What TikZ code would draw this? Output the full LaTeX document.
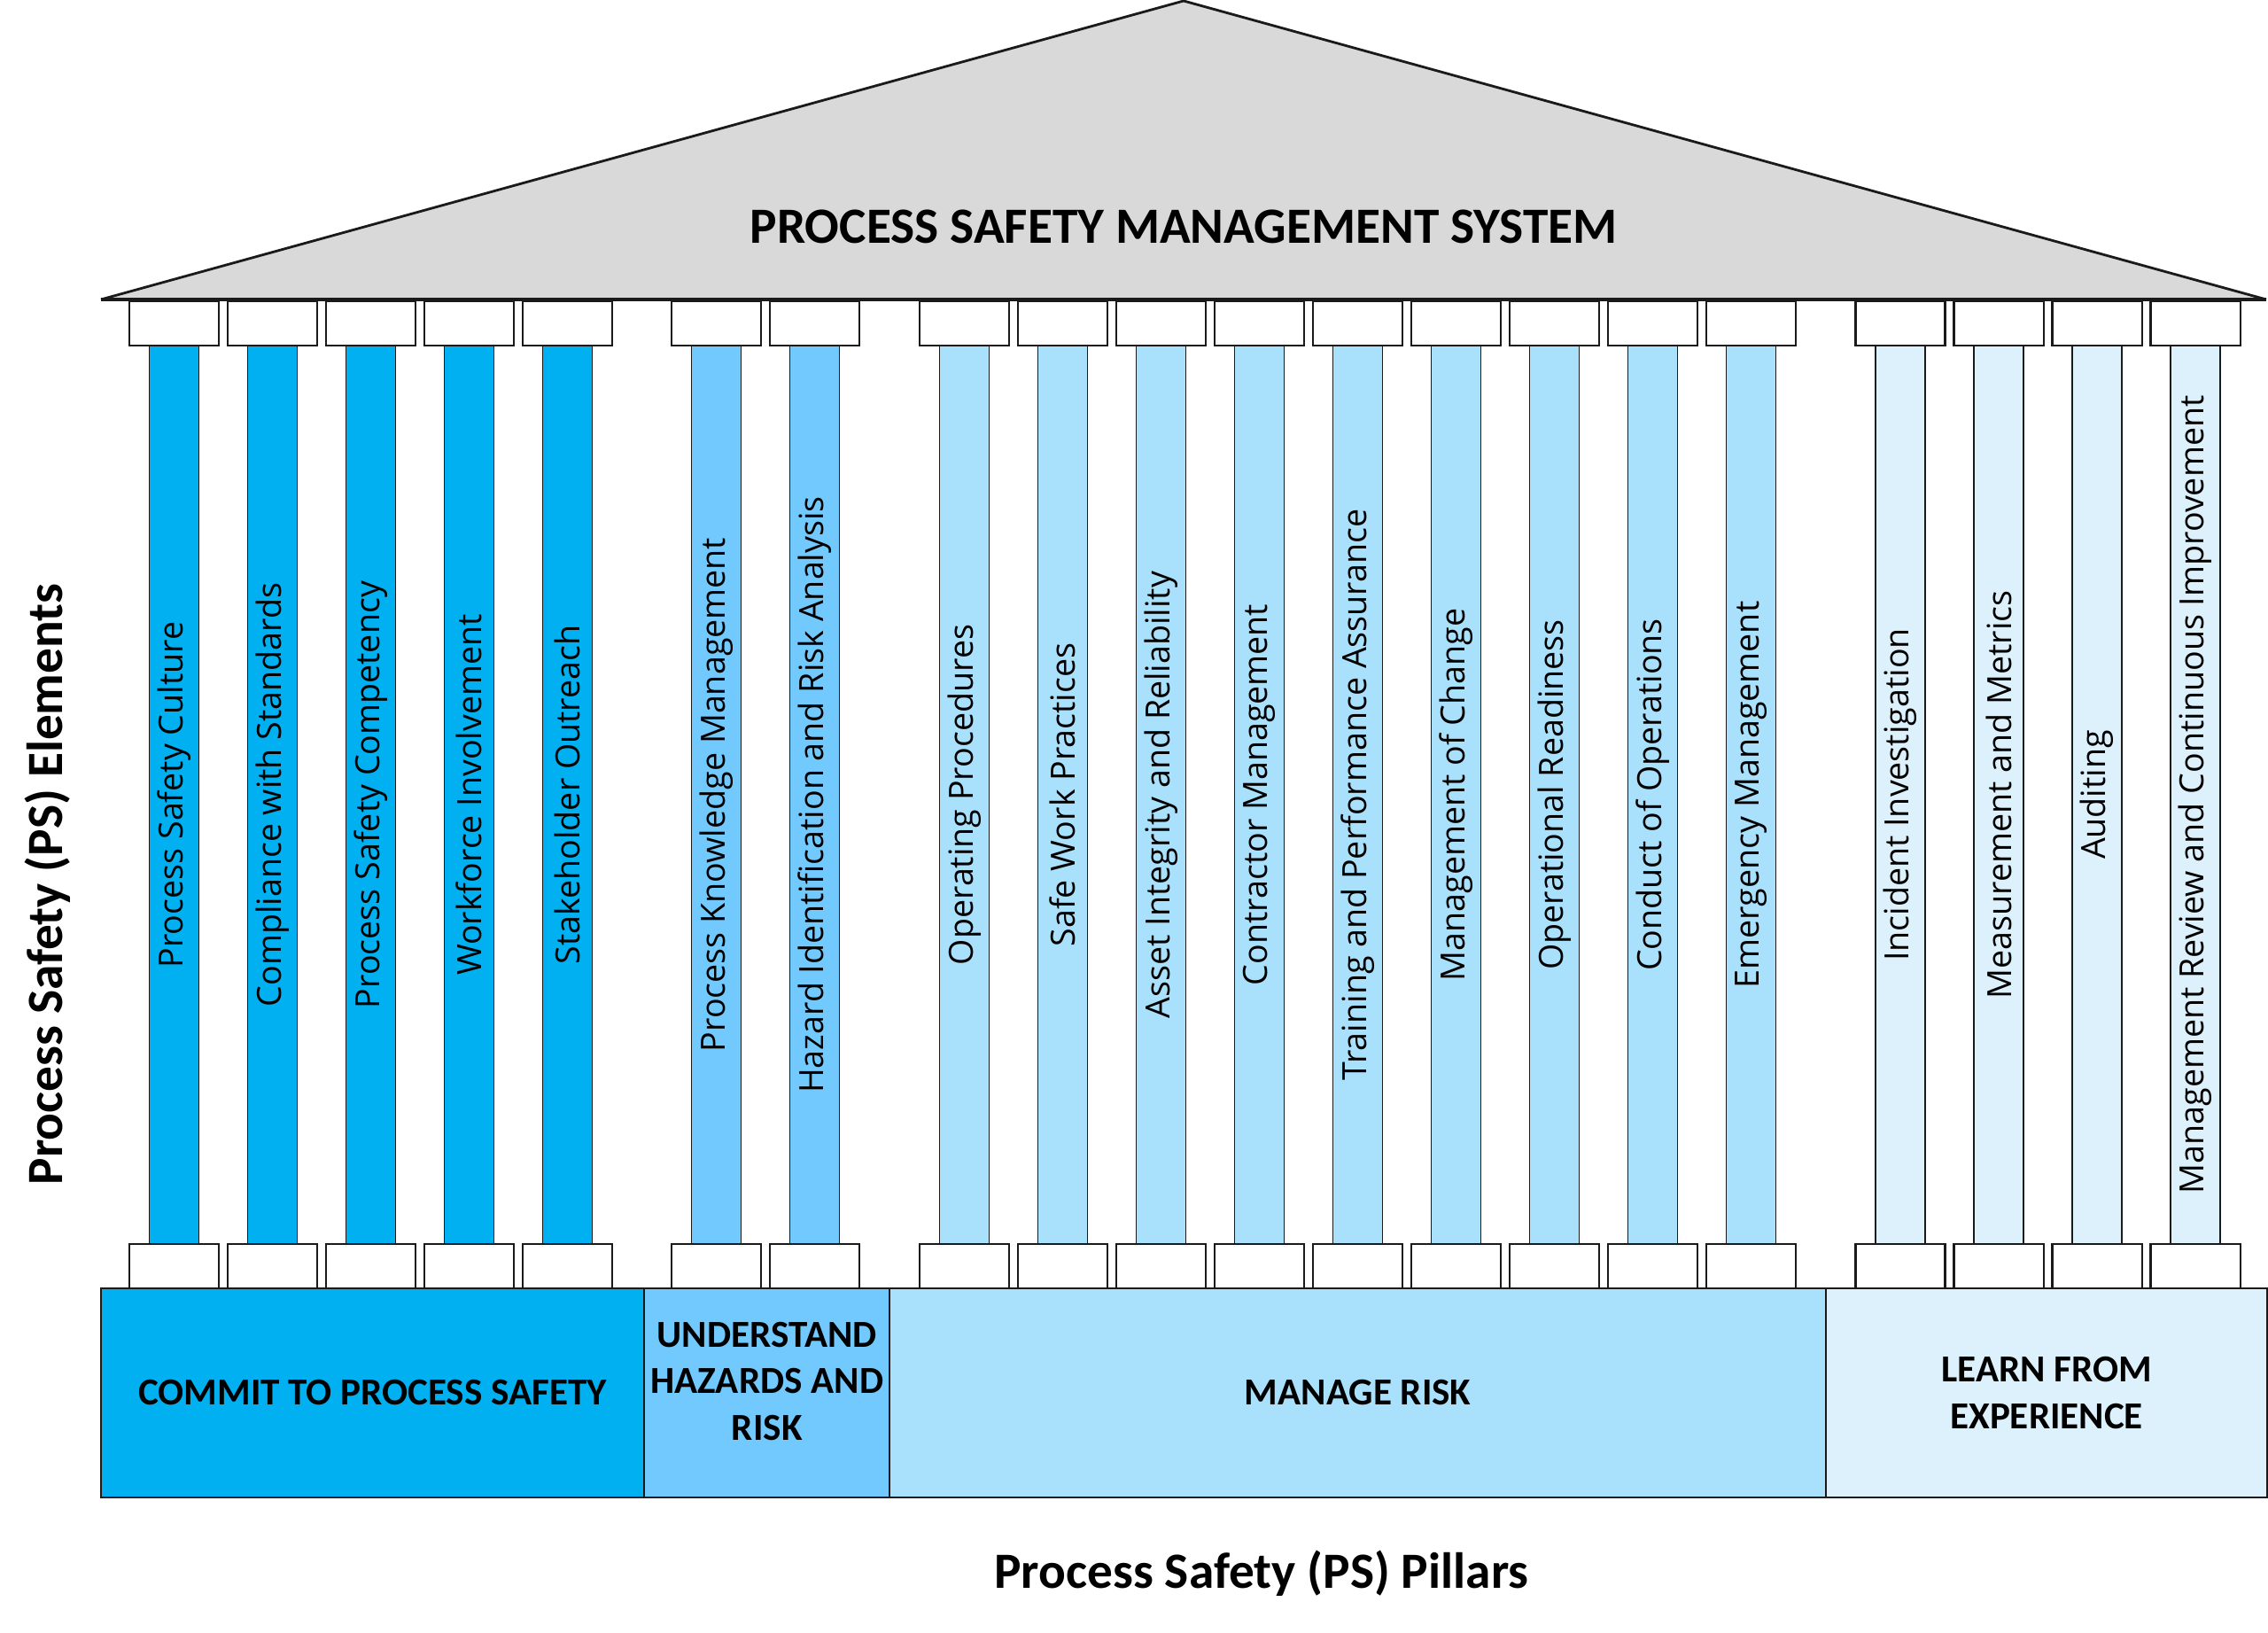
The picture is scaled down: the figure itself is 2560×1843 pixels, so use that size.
\documentclass[tikz,border=0pt]{standalone}
\usepackage{fontspec}
\setmainfont{Carlito}
\newfontfamily\elemfont{Open Sans}
\usetikzlibrary{positioning}
\definecolor{commit}{HTML}{00B0F0}
\definecolor{hazard}{HTML}{71C9FD}
\definecolor{manage}{HTML}{A9E1FD}
\definecolor{learn}{HTML}{DDF1FD}
\definecolor{roof}{HTML}{D9D9D9}
\definecolor{edge}{HTML}{1A1A1A}
\tikzset{
  capbox/.style={draw=edge,fill=white,line width=0.6pt,minimum width=1.01cm,minimum height=0.5cm,inner sep=0pt,outer sep=0pt},
  shaft/.style={draw=edge,line width=0.5pt,minimum width=0.56cm,minimum height=10.14cm,inner sep=0pt,outer sep=0pt},
  elemtext/.style={rotate=90,font=\elemfont\fontsize{10.7}{12.8}\selectfont},
  pillarbox/.style={draw=edge,line width=0.6pt,minimum height=2.36cm,inner sep=0pt,outer sep=0pt,align=center,font=\fontsize{12.25}{14.9}\selectfont\bfseries},
  bigbold/.style={font=\fontsize{16.3}{19.5}\selectfont\bfseries}
}

\begin{document}
\begin{tikzpicture}[x=0.01cm,y=-0.01cm]
\useasboundingbox (0,0) rectangle (2560,1843);
\coordinate (apex) at (1336,1);
\coordinate (eaveL) at (114,338);
\coordinate (eaveR) at (2558,338);
\fill[roof] (eaveL) -- (apex) -- (eaveR) -- cycle;
\draw[edge,line width=0.8pt] (eaveL) -- (apex) -- (eaveR);
\draw[edge,line width=1.4pt] (eaveL) -- (eaveR);
\node[bigbold] (title) at (1336,256) {PROCESS SAFETY MANAGEMENT SYSTEM};
\foreach \cx/\col/\txt [count=\i] in {196.5/commit/Process Safety Culture, 307.5/commit/Compliance with Standards,
  418.5/commit/Process Safety Competency, 529.5/commit/Workforce Involvement, 640.5/commit/Stakeholder Outreach,
  808.5/hazard/Process Knowledge Management, 919.5/hazard/Hazard Identification and Risk Analysis,
  1088.5/manage/Operating Procedures, 1199.5/manage/Safe Work Practices, 1310.5/manage/Asset Integrity and Reliability,
  1421.5/manage/Contractor Management, 1532.5/manage/Training and Performance Assurance, 1643.5/manage/Management of Change,
  1754.5/manage/Operational Readiness, 1865.5/manage/Conduct of Operations, 1976.5/manage/Emergency Management,
  2145/learn/Incident Investigation, 2256/learn/Measurement and Metrics, 2367/learn/Auditing,
  2478/learn/Management Review and Continuous Improvement}
  {\node[shaft,fill=\col] (s\i) at (\cx,897) {};
   \node[elemtext] (e\i) at (s\i) {\txt};
   \node[capbox,above=0pt of s\i] (t\i) {};
   \node[capbox,below=0pt of s\i] (b\i) {};}
\node[pillarbox,fill=commit,minimum width=6.13cm] (commitbox) at (420.5,1572) {COMMIT TO PROCESS SAFETY};
\node[pillarbox,fill=hazard,minimum width=2.77cm,right=0pt of commitbox] (hazardbox) {};
\node[pillarbox,draw=none,fill=none,minimum height=0pt] (hazardtext) at ([yshift=3.7pt]hazardbox.center) {UNDERSTAND\\HAZARDS AND\\RISK};
\node[pillarbox,fill=manage,minimum width=10.56cm,right=0pt of hazardbox] (managebox) {MANAGE RISK};
\node[pillarbox,fill=learn,minimum width=4.98cm,right=0pt of managebox] (learnbox) {LEARN FROM\\EXPERIENCE};
\node[bigbold] (pillars) at (1424,1776) {Process Safety (PS) Pillars};
\node[bigbold,rotate=90] (elements) at (54,998) {Process Safety (PS) Elements};
\end{tikzpicture}
\end{document}
